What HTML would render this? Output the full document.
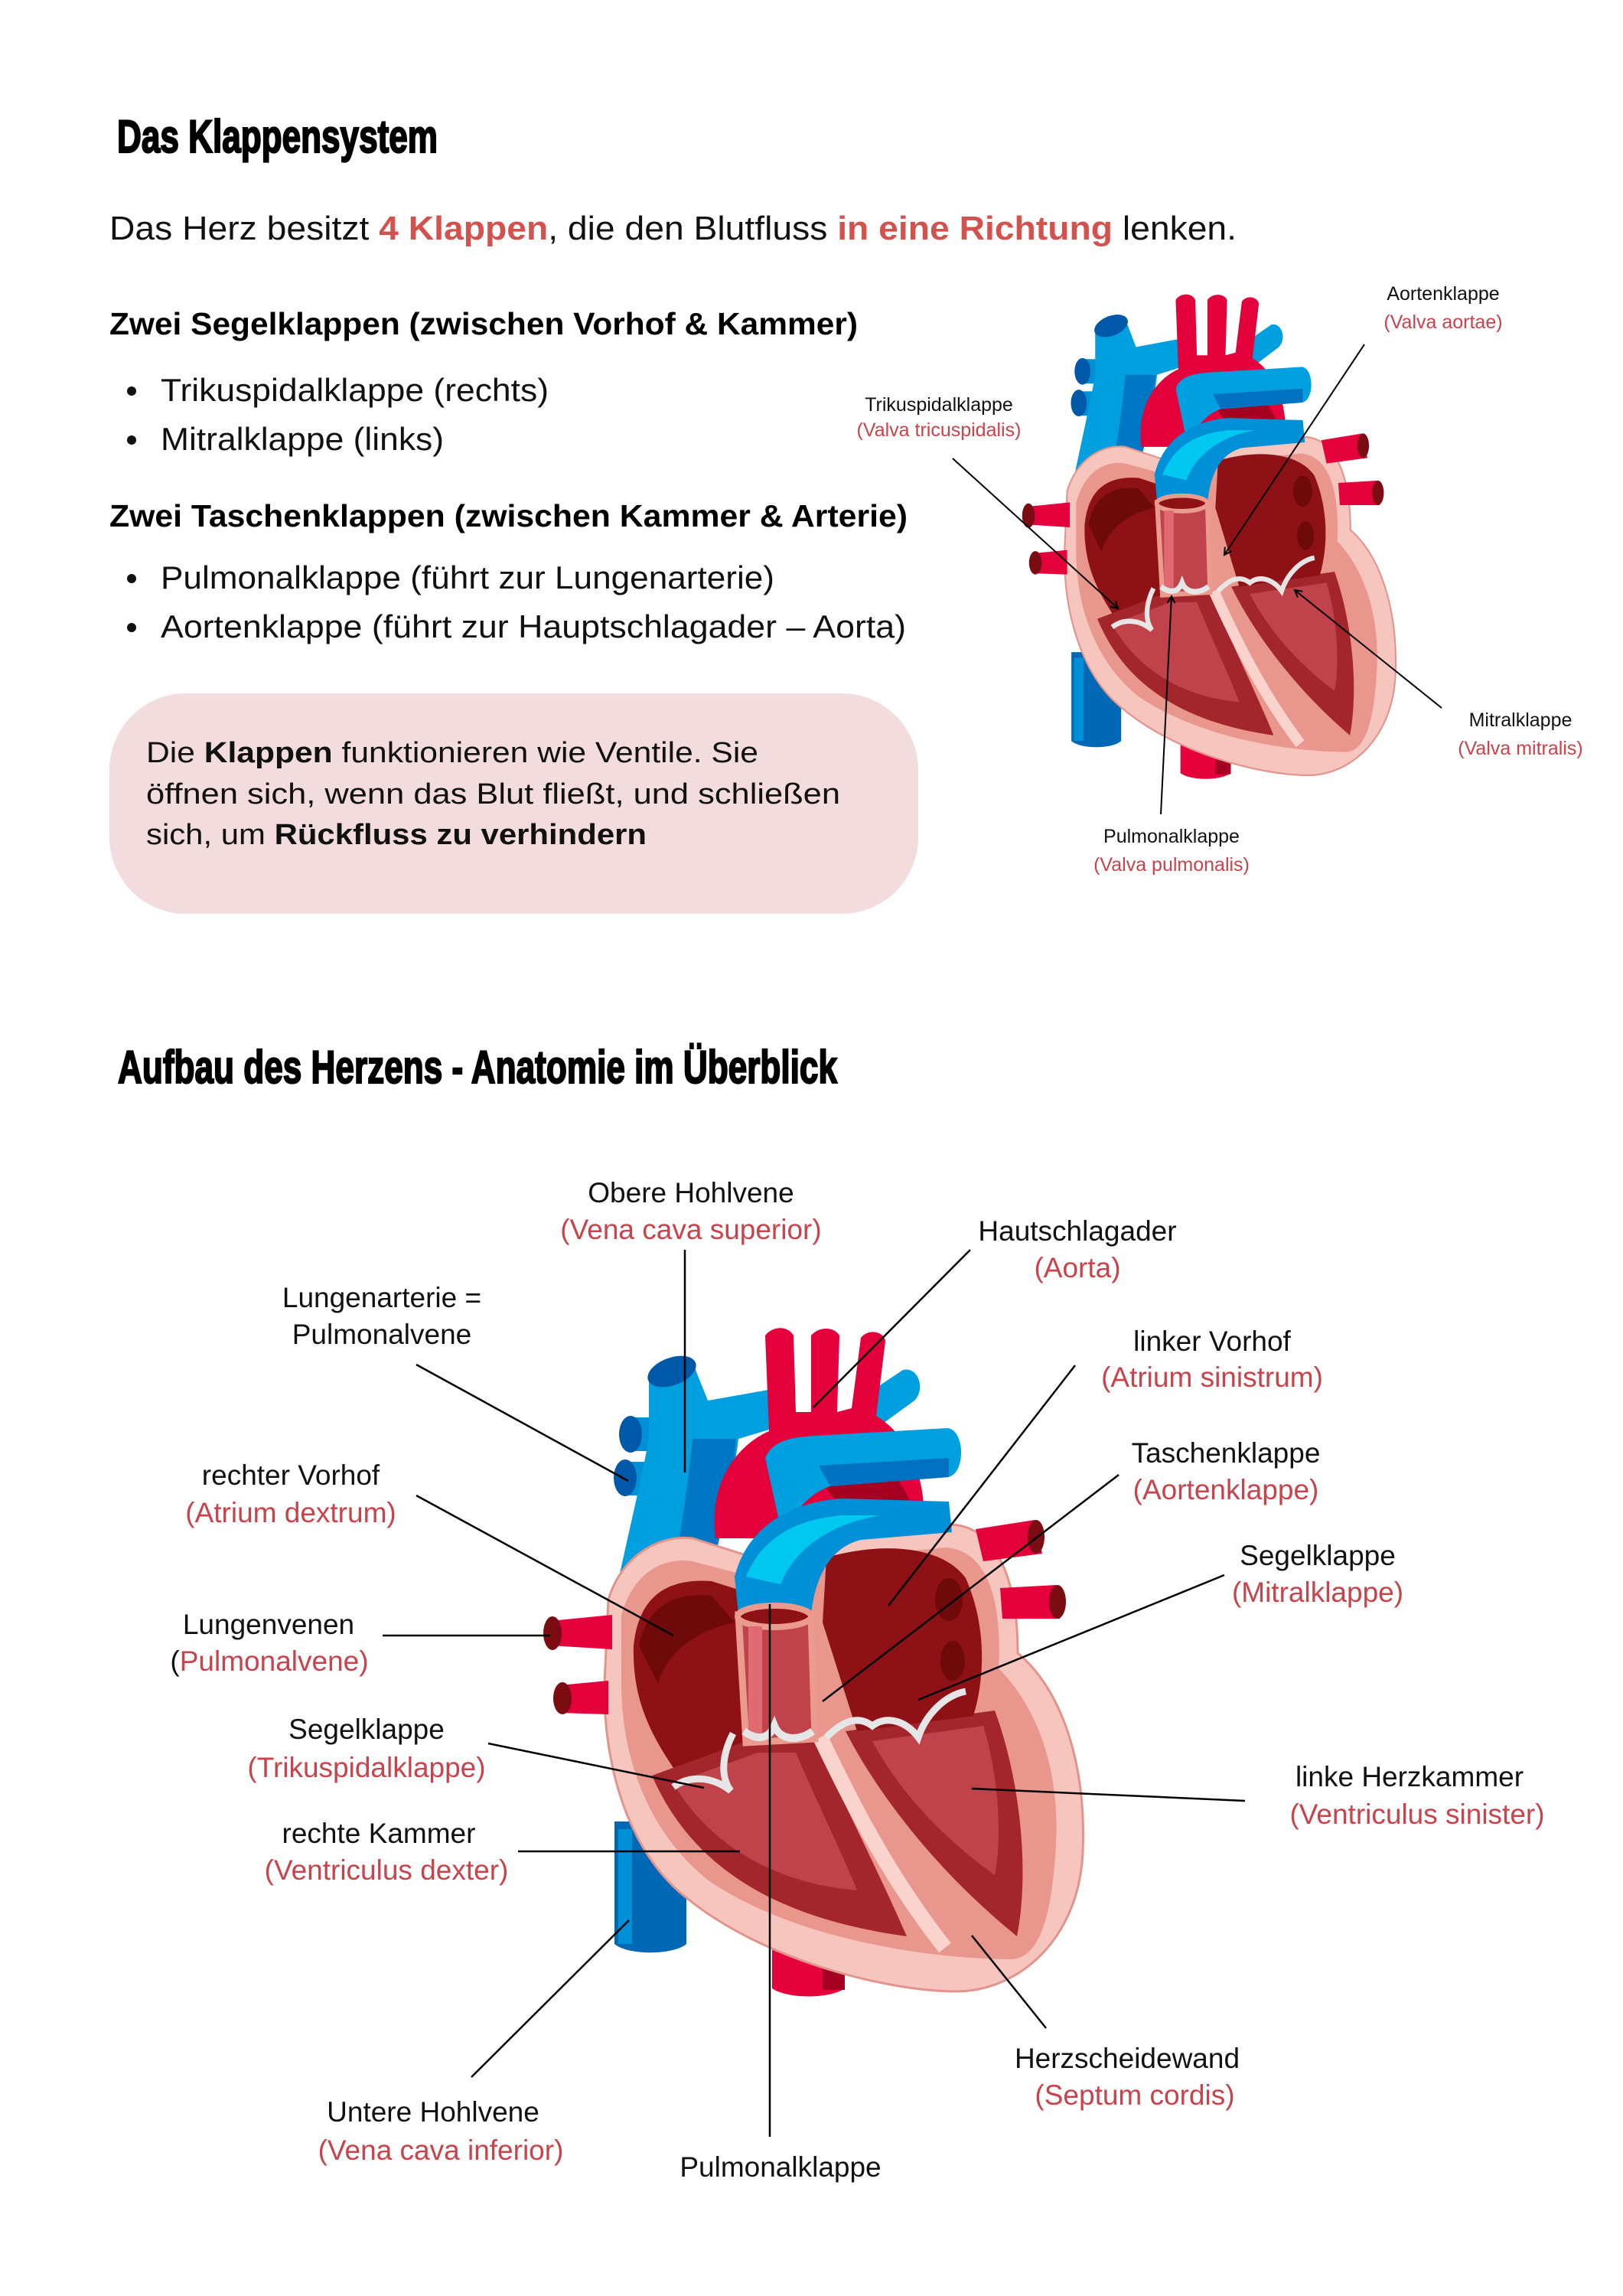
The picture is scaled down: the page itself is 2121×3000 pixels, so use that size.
<!DOCTYPE html>
<html><head><meta charset="utf-8"><style>
html,body{margin:0;padding:0;background:#fff;}
svg{display:block;}
text{font-family:"Liberation Sans",sans-serif;}
.t{font-weight:bold;fill:#000;}
.h{stroke:#000;stroke-width:2.2;}
.lb{fill:#111;}
.rd{fill:#c8434b;}
</style></head><body>
<svg width="2121" height="3000" viewBox="0 0 2121 3000" xmlns="http://www.w3.org/2000/svg">
<defs>
<marker id="ar" markerWidth="12" markerHeight="12" refX="10" refY="6" orient="auto" markerUnits="userSpaceOnUse">
<path d="M1,1 L10,6 L1,11" fill="none" stroke="#000" stroke-width="2"/>
</marker>
<g id="heart">
 <path d="M803,2380 L897,2380 L897,2540 C880,2555 820,2555 803,2540 Z" fill="#0068b5"/>
 <rect x="808" y="2390" width="18" height="150" fill="#0090d8"/>
 <path d="M1009,2500 L1104,2500 L1104,2598 C1085,2612 1028,2612 1009,2598 Z" fill="#e4003a"/>
 <rect x="1075" y="2500" width="29" height="100" fill="#a50021"/>
 <rect x="820" y="1852" width="45" height="44" fill="#0090d8"/>
 <ellipse cx="824" cy="1874" rx="15" ry="24" fill="#0058a8"/>
 <rect x="815" y="1910" width="45" height="44" fill="#0090d8"/>
 <ellipse cx="817" cy="1931" rx="15" ry="24" fill="#0058a8"/>
 <path d="M848,1800 L905,1780 L925,1830 L1010,1815 L1015,1865 L965,1880 C955,1960 935,2040 905,2130 L790,2150 C810,2050 835,1950 848,1880 Z" fill="#009fe0"/>
 <path d="M905,1880 C895,1980 880,2060 860,2140 L905,2130 C935,2040 955,1960 962,1880 Z" fill="#0077c4"/>
 <ellipse cx="878" cy="1792" rx="33" ry="18" transform="rotate(-20 878 1792)" fill="#0058a8"/>
 <path d="M1120,1830 L1180,1790 C1200,1785 1210,1815 1195,1830 L1140,1870 Z" fill="#009fe0"/>
 <path d="M935,2010 C925,1930 970,1885 1005,1870 L1000,1745 C1010,1732 1030,1732 1037,1745 L1040,1845 L1060,1845 L1060,1745 C1070,1733 1090,1733 1097,1745 L1094,1845 L1113,1840 L1125,1748 C1135,1735 1155,1740 1157,1752 L1145,1850 C1195,1880 1215,1950 1205,2010 Z" fill="#e4003a"/>
 <path d="M1050,1900 C1120,1880 1180,1900 1205,2010 L1120,2010 C1100,1960 1070,1940 1050,1900 Z" fill="#a50021"/>
 <path d="M1000,1905 C1010,1880 1040,1878 1065,1876 L1238,1866 C1262,1868 1262,1928 1238,1930 L1085,1942 C1055,1952 1035,1980 1022,2005 Z" fill="#009fe0"/>
 <path d="M1070,1915 L1240,1905 L1240,1930 L1085,1942 Z" fill="#0070c0"/>
 <path d="M795,2090 C815,2025 870,2005 905,2010 L1000,2040 C1050,2012 1150,2002 1240,1992 C1300,1992 1330,2060 1330,2160 C1385,2205 1420,2300 1415,2420 C1410,2535 1330,2602 1250,2602 C1160,2602 1000,2562 900,2482 C818,2420 788,2300 790,2200 Z" fill="#f6c5be" stroke="#e0948b" stroke-width="3"/>
 <path d="M812,2110 C830,2050 870,2035 905,2040 L1000,2065 C1060,2035 1160,2030 1235,2022 C1290,2025 1310,2090 1305,2180 C1355,2230 1385,2310 1380,2410 C1375,2500 1360,2560 1320,2560 C1250,2560 1060,2545 930,2460 C850,2400 812,2300 812,2200 Z" fill="#e9968d"/>
 <path d="M828,2150 C835,2085 872,2062 930,2066 L990,2085 L990,2285 L880,2310 C850,2265 826,2220 828,2150 Z" fill="#8e1116"/>
 <path d="M835,2150 C845,2100 880,2080 930,2085 L960,2120 C910,2130 870,2160 860,2200 Z" fill="#6e0a0a"/>
 <!-- right ventricle -->
 <path d="M852,2320 L995,2268 L1060,2265 C1100,2350 1150,2450 1185,2530 C1000,2505 900,2430 852,2320 Z" fill="#a3262c"/>
 <path d="M880,2330 L990,2290 L1040,2290 C1070,2360 1100,2420 1120,2470 C1000,2460 920,2400 880,2330 Z" fill="#c0424a"/>
 <!-- left ventricle -->
 <path d="M1105,2262 L1300,2235 C1335,2330 1345,2450 1329,2530 C1230,2450 1150,2350 1105,2262 Z" fill="#a3262c"/>
 <path d="M1140,2275 L1285,2255 C1305,2320 1310,2400 1300,2450 C1230,2400 1175,2340 1140,2275 Z" fill="#c0424a"/>
 <path d="M1072,2270 C1110,2350 1160,2450 1235,2545" fill="none" stroke="#f9d3cc" stroke-width="20"/>
 <path d="M1080,2035 C1150,2015 1230,2018 1262,2062 C1292,2130 1285,2200 1272,2242 L1120,2262 L1075,2120 Z" fill="#8e1116"/>
 <ellipse cx="1240" cy="2090" rx="18" ry="28" fill="#6e0a0a"/>
 <ellipse cx="1245" cy="2170" rx="16" ry="26" fill="#6e0a0a"/>
 <path d="M960,2060 C978,1990 1040,1962 1100,1958 L1240,1962 L1244,2002 L1125,2012 C1085,2022 1065,2060 1060,2110 L965,2110 Z" fill="#0090d8"/>
 <path d="M975,2060 C995,2010 1040,1985 1100,1980 L1150,1980 C1090,1990 1040,2020 1020,2070 Z" fill="#00c8f0"/>
 <path d="M965,2110 L1060,2110 L1065,2272 L975,2277 Z" fill="#c0424a" stroke="#eb9a8e" stroke-width="9"/>
 <ellipse cx="1012" cy="2112" rx="48" ry="14" fill="#8e1116" stroke="#eb9a8e" stroke-width="8"/>
 <rect x="978" y="2125" width="18" height="140" fill="#e06a72"/>
 <path d="M972,2262 C990,2275 1005,2272 1012,2255 C1020,2275 1045,2275 1062,2262" fill="none" stroke="#e6e6e6" stroke-width="10"/>
 <path d="M958,2265 C945,2290 940,2320 955,2340 C930,2320 900,2320 880,2335" fill="none" stroke="#e6e6e6" stroke-width="9"/>
 <path d="M1080,2270 C1100,2250 1120,2240 1140,2255 C1160,2240 1185,2250 1200,2270 C1210,2240 1235,2215 1262,2210" fill="none" stroke="#e6e6e6" stroke-width="9"/>
 <path d="M719,2118 L800,2110 L800,2155 L719,2150 Z" fill="#e4003a"/>
 <ellipse cx="722" cy="2134" rx="12" ry="22" fill="#7a0c12"/>
 <path d="M732,2202 L795,2196 L795,2240 L732,2238 Z" fill="#e4003a"/>
 <ellipse cx="735" cy="2219" rx="12" ry="21" fill="#7a0c12"/>
 <path d="M1275,1998 L1352,1986 L1362,2030 L1285,2040 Z" fill="#e4003a"/>
 <ellipse cx="1354" cy="2008" rx="11" ry="22" fill="#7a0c12"/>
 <path d="M1307,2075 L1380,2071 L1385,2115 L1310,2115 Z" fill="#e4003a"/>
 <ellipse cx="1382" cy="2093" rx="11" ry="22" fill="#7a0c12"/>
</g>
</defs>

<text x="153" y="199" class="t h" font-size="60" textLength="419" lengthAdjust="spacingAndGlyphs">Das Klappensystem</text>
<text x="143" y="313" font-size="44" fill="#111" textLength="1473" lengthAdjust="spacingAndGlyphs">Das Herz besitzt <tspan font-weight="bold" fill="#d4524e">4 Klappen</tspan>, die den Blutfluss <tspan font-weight="bold" fill="#d4524e">in eine Richtung</tspan> lenken.</text>

<text x="143" y="437" class="t" font-size="41" textLength="978" lengthAdjust="spacingAndGlyphs">Zwei Segelklappen (zwischen Vorhof &amp; Kammer)</text>
<circle cx="172" cy="511" r="6" fill="#111"/>
<text x="210" y="524" font-size="42" fill="#111" textLength="507" lengthAdjust="spacingAndGlyphs">Trikuspidalklappe (rechts)</text>
<circle cx="172" cy="575" r="6" fill="#111"/>
<text x="210" y="588" font-size="42" fill="#111" textLength="370" lengthAdjust="spacingAndGlyphs">Mitralklappe (links)</text>

<text x="143" y="688" class="t" font-size="41" textLength="1043" lengthAdjust="spacingAndGlyphs">Zwei Taschenklappen (zwischen Kammer &amp; Arterie)</text>
<circle cx="172" cy="756" r="6" fill="#111"/>
<text x="210" y="769" font-size="42" fill="#111" textLength="802" lengthAdjust="spacingAndGlyphs">Pulmonalklappe (führt zur Lungenarterie)</text>
<circle cx="172" cy="820" r="6" fill="#111"/>
<text x="210" y="833" font-size="42" fill="#111" textLength="974" lengthAdjust="spacingAndGlyphs">Aortenklappe (führt zur Hauptschlagader – Aorta)</text>

<rect x="143" y="906" width="1057" height="288" rx="100" ry="100" fill="#f2dcdd"/>
<text x="191" y="996" font-size="38" fill="#111" textLength="800" lengthAdjust="spacingAndGlyphs">Die <tspan font-weight="bold">Klappen</tspan> funktionieren wie Ventile. Sie</text>
<text x="191" y="1050" font-size="38" fill="#111" textLength="907" lengthAdjust="spacingAndGlyphs">öffnen sich, wenn das Blut fließt, und schließen</text>
<text x="191" y="1103" font-size="38" fill="#111" textLength="654" lengthAdjust="spacingAndGlyphs">sich, um <tspan font-weight="bold">Rückfluss zu verhindern</tspan></text>

<use href="#heart" transform="translate(1342,383) scale(0.692,0.725) translate(-719,-1733)"/>
<g font-size="25" text-anchor="middle">
<text x="1886" y="392" class="lb">Aortenklappe</text>
<text x="1886" y="429" class="rd">(Valva aortae)</text>
<text x="1227" y="537" class="lb">Trikuspidalklappe</text>
<text x="1227" y="570" class="rd">(Valva tricuspidalis)</text>
<text x="1987" y="949" class="lb">Mitralklappe</text>
<text x="1987" y="986" class="rd">(Valva mitralis)</text>
<text x="1531" y="1101" class="lb">Pulmonalklappe</text>
<text x="1531" y="1138" class="rd">(Valva pulmonalis)</text>
</g>
<g stroke="#000" stroke-width="2" fill="none" marker-end="url(#ar)">
<line x1="1245" y1="599" x2="1461" y2="795"/>
<line x1="1783" y1="450" x2="1600" y2="725"/>
<line x1="1884" y1="925" x2="1692" y2="771"/>
<line x1="1517" y1="1064" x2="1531" y2="779"/>
</g>

<text x="154" y="1415" class="t h" font-size="60" textLength="940" lengthAdjust="spacingAndGlyphs">Aufbau des Herzens - Anatomie im Überblick</text>

<use href="#heart"/>

<g stroke="#000" stroke-width="2.5" fill="none">
<line x1="895" y1="1633" x2="895" y2="1924"/>
<line x1="544" y1="1783" x2="821" y2="1935"/>
<line x1="544" y1="1954" x2="880" y2="2137"/>
<line x1="500" y1="2137" x2="719" y2="2137"/>
<line x1="638" y1="2278" x2="920" y2="2336"/>
<line x1="677" y1="2419" x2="967" y2="2419"/>
<line x1="616" y1="2714" x2="822" y2="2509"/>
<line x1="1006" y1="2096" x2="1006" y2="2792"/>
<line x1="1367" y1="2650" x2="1270" y2="2529"/>
<line x1="1268" y1="1633" x2="1063" y2="1839"/>
<line x1="1405" y1="1784" x2="1161" y2="2098"/>
<line x1="1462" y1="1927" x2="1075" y2="2223"/>
<line x1="1600" y1="2058" x2="1200" y2="2221"/>
<line x1="1627" y1="2353" x2="1270" y2="2337"/>
</g>

<g font-size="37" text-anchor="middle">
<text x="903" y="1571" class="lb">Obere Hohlvene</text>
<text x="903" y="1619" class="rd">(Vena cava superior)</text>
<text x="499" y="1708" class="lb">Lungenarterie =</text>
<text x="499" y="1756" class="lb">Pulmonalvene</text>
<text x="380" y="1940" class="lb">rechter Vorhof</text>
<text x="380" y="1989" class="rd">(Atrium dextrum)</text>
<text x="351" y="2135" class="lb">Lungenvenen</text>
<text x="352" y="2183" class="rd"><tspan fill="#111">(</tspan>Pulmonalvene)</text>
<text x="479" y="2272" class="lb">Segelklappe</text>
<text x="479" y="2322" class="rd">(Trikuspidalklappe)</text>
<text x="495" y="2408" class="lb">rechte Kammer</text>
<text x="505" y="2456" class="rd">(Ventriculus dexter)</text>
<text x="566" y="2772" class="lb">Untere Hohlvene</text>
<text x="576" y="2822" class="rd">(Vena cava inferior)</text>
<text x="1020" y="2844" class="lb">Pulmonalklappe</text>
<text x="1473" y="2702" class="lb">Herzscheidewand</text>
<text x="1483" y="2750" class="rd">(Septum cordis)</text>
<text x="1408" y="1621" class="lb">Hautschlagader</text>
<text x="1408" y="1669" class="rd">(Aorta)</text>
<text x="1584" y="1765" class="lb">linker Vorhof</text>
<text x="1584" y="1812" class="rd">(Atrium sinistrum)</text>
<text x="1602" y="1911" class="lb">Taschenklappe</text>
<text x="1602" y="1959" class="rd">(Aortenklappe)</text>
<text x="1722" y="2045" class="lb">Segelklappe</text>
<text x="1722" y="2093" class="rd">(Mitralklappe)</text>
<text x="1842" y="2334" class="lb">linke Herzkammer</text>
<text x="1852" y="2383" class="rd">(Ventriculus sinister)</text>
</g>
</svg>
</body></html>
